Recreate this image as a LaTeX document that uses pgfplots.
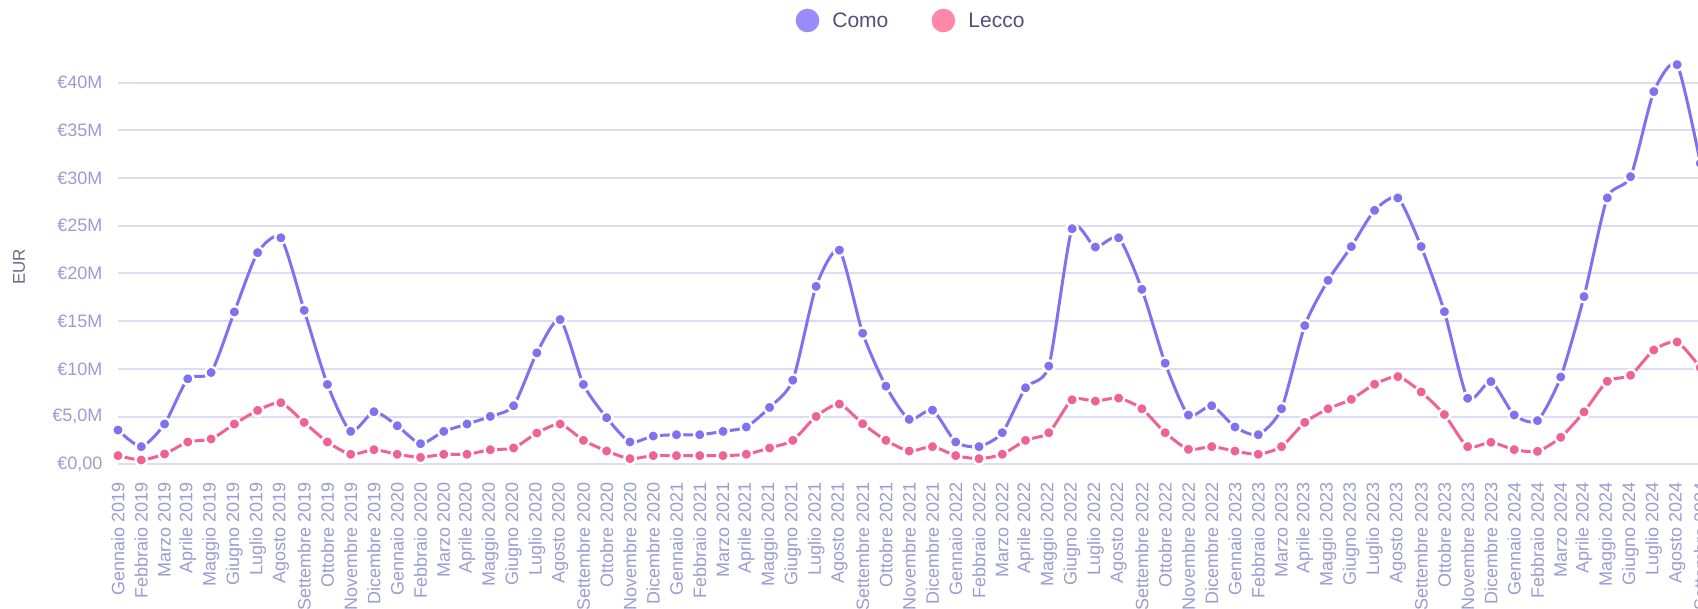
\documentclass[border=0pt]{standalone}
\usepackage{fontspec}
\setmainfont{Liberation Sans}
\usepackage{pgfplots}
\pgfplotsset{compat=1.18}
\usepackage{pgfplotstable}
\definecolor{comoC}{HTML}{7F72F0}
\definecolor{leccoC}{HTML}{F06292}
\definecolor{comoL}{HTML}{9A8CF8}
\definecolor{leccoL}{HTML}{FF88A8}
\definecolor{gridC}{HTML}{DCDCF2}
\definecolor{tickC}{HTML}{9A9CD2}
\definecolor{legC}{HTML}{50507A}
\definecolor{eurC}{HTML}{6A6A8A}

\pgfplotstableread{
x como lecco
0 3.59 0.91
1 1.85 0.45
2 4.22 1.08
3 8.96 2.34
4 9.62 2.65
5 15.97 4.22
6 22.18 5.65
7 23.74 6.45
8 16.14 4.39
9 8.37 2.34
10 3.45 1.05
11 5.51 1.53
12 4.04 1.05
13 2.16 0.73
14 3.45 1.05
15 4.22 1.05
16 5.02 1.53
17 6.14 1.71
18 11.68 3.28
19 15.17 4.22
20 8.37 2.51
21 4.88 1.39
22 2.34 0.59
23 2.96 0.91
24 3.10 0.91
25 3.10 0.91
26 3.45 0.91
27 3.91 1.05
28 5.96 1.71
29 8.82 2.51
30 18.65 5.02
31 22.45 6.31
32 13.74 4.25
33 8.19 2.51
34 4.71 1.39
35 5.68 1.85
36 2.34 0.91
37 1.85 0.59
38 3.31 1.05
39 8.02 2.51
40 10.29 3.31
41 24.69 6.76
42 22.77 6.62
43 23.74 6.94
44 18.34 5.82
45 10.60 3.31
46 5.16 1.57
47 6.14 1.85
48 3.91 1.39
49 3.10 1.05
50 5.82 1.85
51 14.54 4.39
52 19.28 5.82
53 22.82 6.81
54 26.62 8.39
55 27.92 9.19
56 22.82 7.58
57 16.00 5.21
58 6.92 1.85
59 8.67 2.31
60 5.17 1.54
61 4.58 1.36
62 9.15 2.83
63 17.58 5.49
64 27.92 8.70
65 30.15 9.33
66 39.06 11.98
67 41.89 12.82
68 31.55 10.13
}\data

\begin{document}
\begin{tikzpicture}
\begin{axis}[
  at={(59bp,72.35bp)}, anchor=south west, scale only axis,
  width=797bp, height=209.9bp,
  xmin=0, xmax=68.5, ymin=0, ymax=44,
  axis line style={draw=none},
  major tick length=0pt,
  ymajorgrids, grid style={color=gridC, line width=1bp},
  xtick={0,...,68},
  xticklabels={Gennaio 2019,Febbraio 2019,Marzo 2019,Aprile 2019,Maggio 2019,Giugno 2019,Luglio 2019,Agosto 2019,Settembre 2019,Ottobre 2019,Novembre 2019,Dicembre 2019,
    Gennaio 2020,Febbraio 2020,Marzo 2020,Aprile 2020,Maggio 2020,Giugno 2020,Luglio 2020,Agosto 2020,Settembre 2020,Ottobre 2020,Novembre 2020,Dicembre 2020,
    Gennaio 2021,Febbraio 2021,Marzo 2021,Aprile 2021,Maggio 2021,Giugno 2021,Luglio 2021,Agosto 2021,Settembre 2021,Ottobre 2021,Novembre 2021,Dicembre 2021,
    Gennaio 2022,Febbraio 2022,Marzo 2022,Aprile 2022,Maggio 2022,Giugno 2022,Luglio 2022,Agosto 2022,Settembre 2022,Ottobre 2022,Novembre 2022,Dicembre 2022,
    Gennaio 2023,Febbraio 2023,Marzo 2023,Aprile 2023,Maggio 2023,Giugno 2023,Luglio 2023,Agosto 2023,Settembre 2023,Ottobre 2023,Novembre 2023,Dicembre 2023,
    Gennaio 2024,Febbraio 2024,Marzo 2024,Aprile 2024,Maggio 2024,Giugno 2024,Luglio 2024,Agosto 2024,Settembre 2024},
  ytick={0,5,...,40},
  yticklabels={{€0,00},{€5,0M},{€10M},{€15M},{€20M},{€25M},{€30M},{€35M},{€40M}},
  tick label style={font=\fontsize{9bp}{10bp}\selectfont, text=tickC, inner sep=0pt},
  xticklabel style={rotate=90, anchor=east},
  yticklabel style={anchor=east},
  xticklabel shift=8.7bp, yticklabel shift=7.65bp,
  clip=true,
]
\addplot[leccoC, line width=1.5bp, smooth, tension=0.4, mark=*, mark size=2.85bp,
  mark options={fill=leccoC, draw=white, line width=1.2bp}] table[x=x,y=lecco]{\data};
\addplot[comoC, line width=1.5bp, smooth, tension=0.4, mark=*, mark size=2.85bp,
  mark options={fill=comoC, draw=white, line width=1.2bp}] table[x=x,y=como]{\data};
\end{axis}
\fill[comoL] (403.75bp,294.25bp) circle (5.9bp);
\node[anchor=west, inner sep=0pt, text=legC, font=\fontsize{10.5bp}{12bp}\selectfont] at (416bp,294.25bp) {Como};
\fill[leccoL] (471.7bp,294.25bp) circle (5.9bp);
\node[anchor=west, inner sep=0pt, text=legC, font=\fontsize{10.5bp}{12bp}\selectfont] at (484bp,294.25bp) {Lecco};
\node[rotate=90, inner sep=0pt, text=eurC, font=\fontsize{8.5bp}{10bp}\selectfont] at (9.5bp,171bp) {EUR};
\pgfresetboundingbox
\useasboundingbox (0,0) rectangle (849bp,304.5bp);
\end{tikzpicture}
\end{document}
